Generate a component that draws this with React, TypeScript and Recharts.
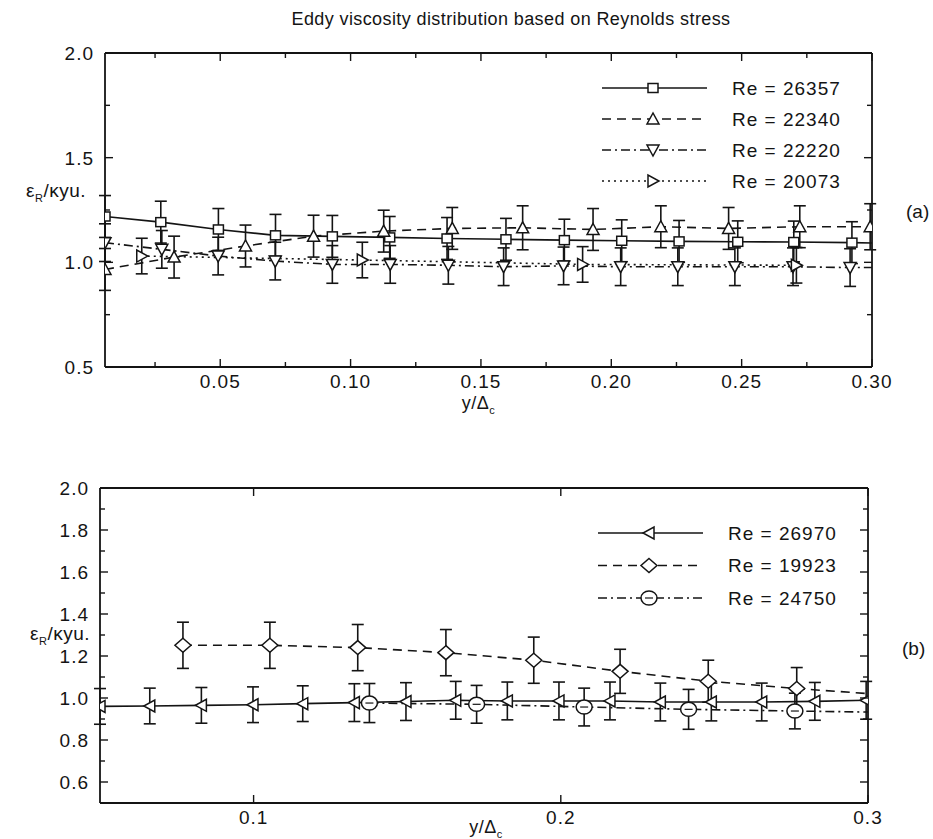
import React from "react";
import { LineChart, Line, XAxis, YAxis, ErrorBar, Legend } from "recharts";

const INK = "#141414";
const FONT = "'Liberation Sans', Arial, Helvetica, sans-serif";

// ---------- panel (a) ----------
const aXDomain = [0.0058, 0.3];
const aXTicks = [0.025, 0.05, 0.075, 0.1, 0.125, 0.15, 0.175, 0.2, 0.225, 0.25, 0.275, 0.3];
const aXLabels = [0.05, 0.1, 0.15, 0.2, 0.25, 0.3];
const aYTicks = [0.5, 0.75, 1.0, 1.25, 1.5, 1.75, 2.0];
const aYLabels = [0.5, 1.0, 1.5, 2.0];

const re26357X = [0.0058, 0.0272, 0.0493, 0.0712, 0.093, 0.115, 0.137, 0.1596, 0.182, 0.204, 0.226, 0.2485, 0.27, 0.2923];
const re26357Y = [1.219, 1.192, 1.157, 1.129, 1.124, 1.119, 1.114, 1.11, 1.106, 1.103, 1.1, 1.098, 1.097, 1.094];
const re26357Err = [0.1, 0.1, 0.1, 0.1, 0.1, 0.1, 0.1, 0.1, 0.1, 0.1, 0.1, 0.1, 0.1, 0.1];
const re26357Edge = [0.3, 1.092];

const re22340X = [0.0058, 0.0323, 0.0597, 0.0858, 0.1127, 0.139, 0.166, 0.193, 0.219, 0.245, 0.2723, 0.2993];
const re22340Y = [0.966, 1.025, 1.078, 1.125, 1.149, 1.162, 1.165, 1.157, 1.17, 1.162, 1.17, 1.17];
const re22340Err = [0.1, 0.1, 0.1, 0.1, 0.1, 0.1, 0.105, 0.1, 0.1, 0.1, 0.1, 0.11];

const re22220X = [0.0058, 0.0276, 0.0492, 0.0711, 0.093, 0.1152, 0.1375, 0.1587, 0.1817, 0.2036, 0.2255, 0.2474, 0.2697, 0.2916];
const re22220Y = [1.094, 1.062, 1.03, 1.006, 0.99, 0.99, 0.986, 0.979, 0.983, 0.979, 0.979, 0.979, 0.979, 0.975];
const re22220Err = [0.09, 0.09, 0.09, 0.09, 0.09, 0.09, 0.09, 0.09, 0.09, 0.09, 0.09, 0.09, 0.09, 0.09];
const re22220Edge = [0.3, 0.975];

const re20073X = [0.0199, 0.1045, 0.189, 0.271];
const re20073Y = [1.03, 1.011, 0.99, 0.986];
const re20073Err = [0.085, 0.085, 0.085, 0.085];

// ---------- panel (b) ----------
const bXDomain = [0.05, 0.3];
const bXTicks = [0.1, 0.2, 0.3];
const bYTicks = [0.5, 0.6, 0.7, 0.8, 0.9, 1.0, 1.1, 1.2, 1.3, 1.4, 1.5, 1.6, 1.7, 1.8, 1.9, 2.0];
const bYLabels = [0.6, 0.8, 1.0, 1.2, 1.4, 1.6, 1.8, 2.0];

const re26970X = [0.05, 0.0662, 0.083, 0.0998, 0.116, 0.1328, 0.1496, 0.1658, 0.1826, 0.1994, 0.216, 0.2324, 0.249, 0.2654, 0.2827, 0.2994];
const re26970Y = [0.96, 0.962, 0.965, 0.968, 0.973, 0.978, 0.983, 0.989, 0.986, 0.986, 0.986, 0.981, 0.981, 0.981, 0.984, 0.989];
const re26970Err = [0.085, 0.085, 0.085, 0.085, 0.085, 0.09, 0.09, 0.09, 0.09, 0.09, 0.09, 0.09, 0.09, 0.09, 0.09, 0.09];

const re19923X = [0.077, 0.1053, 0.1339, 0.1626, 0.1912, 0.2193, 0.248, 0.2768];
const re19923Y = [1.251, 1.251, 1.24, 1.216, 1.18, 1.127, 1.08, 1.045];
const re19923Err = [0.11, 0.11, 0.11, 0.11, 0.11, 0.105, 0.1, 0.1];
const re19923Edge = [0.3, 1.021];

const re24750X = [0.1377, 0.1726, 0.2076, 0.2416, 0.2762];
const re24750Y = [0.976, 0.97, 0.957, 0.946, 0.938];
const re24750Err = [0.093, 0.09, 0.09, 0.095, 0.085];
const re24750Edge = [0.3, 0.933];

type Kind = "square" | "triUp" | "triDown" | "triRight" | "triLeft" | "diamond" | "circle";

const SOLID = undefined;
const DASHED = "9 6";
const DASHDOT = "9 4 2 4";
const DOTTED = "2 4";

function build(xs: number[], ys: number[], err: number[], edge?: number[]) {
  const rows: any[] = xs.map((x, i) => ({ x, y: ys[i], e: err[i] }));
  // line runs on to the frame, no marker there
  if (edge) rows.push({ x: edge[0], y: edge[1], edge: true });
  return rows;
}

const seriesA = [
  { name: "Re = 26357", kind: "square" as Kind, dash: SOLID, data: build(re26357X, re26357Y, re26357Err, re26357Edge) },
  { name: "Re = 22340", kind: "triUp" as Kind, dash: DASHED, data: build(re22340X, re22340Y, re22340Err) },
  { name: "Re = 22220", kind: "triDown" as Kind, dash: DASHDOT, data: build(re22220X, re22220Y, re22220Err, re22220Edge) },
  { name: "Re = 20073", kind: "triRight" as Kind, dash: DOTTED, data: build(re20073X, re20073Y, re20073Err) },
];

const seriesB = [
  { name: "Re = 26970", kind: "triLeft" as Kind, dash: SOLID, data: build(re26970X, re26970Y, re26970Err) },
  { name: "Re = 19923", kind: "diamond" as Kind, dash: DASHED, data: build(re19923X, re19923Y, re19923Err, re19923Edge) },
  { name: "Re = 24750", kind: "circle" as Kind, dash: DASHDOT, data: build(re24750X, re24750Y, re24750Err, re24750Edge) },
];

function Marker({ kind, cx, cy }: { kind: Kind; cx: number; cy: number }) {
  const p = { fill: "#fff", stroke: INK, strokeWidth: 1.5 };
  const pts = (a: number[][]) => a.map(([dx, dy]) => `${cx + dx},${cy + dy}`).join(" ");
  switch (kind) {
    case "square":
      return <rect x={cx - 5} y={cy - 4.5} width={10} height={9} {...p} />;
    case "triUp":
      return <polygon points={pts([[0, -6], [-6, 5], [6, 5]])} {...p} />;
    case "triDown":
      return <polygon points={pts([[-6, -5], [6, -5], [0, 6]])} {...p} />;
    case "triRight":
      return <polygon points={pts([[-5, -6], [-5, 6], [6, 0]])} {...p} />;
    case "triLeft":
      return <polygon points={pts([[5, -6], [5, 6], [-6, 0]])} {...p} />;
    case "diamond":
      return <polygon points={pts([[0, -7], [8, 0], [0, 7], [-8, 0]])} {...p} />;
    default:
      return (
        <g>
          <ellipse cx={cx} cy={cy} rx={8} ry={7} {...p} />
          <line x1={cx - 4} x2={cx + 4} y1={cy} y2={cy} stroke={INK} strokeWidth={1.2} />
        </g>
      );
  }
}

function dotFor(kind: Kind) {
  return (p: any) => {
    const k = `${kind}-${p.index}`;
    if (p.payload?.edge || p.cx == null) return <g key={k} />;
    return (
      <g key={k}>
        <Marker kind={kind} cx={p.cx} cy={p.cy} />
      </g>
    );
  };
}

const isIn = (list: number[], v: number) => list.some((m) => Math.abs(m - v) < 1e-6);
const txt = { fontSize: 19, letterSpacing: 1, fill: INK, fontFamily: FONT };

function bottomTick(labels: number[], digits: number) {
  return (props: any) => {
    const { x, y, payload } = props;
    const major = isIn(labels, payload.value);
    const base = y - 8;
    return (
      <g>
        <line x1={x} x2={x} y1={base} y2={base - (major ? 8 : 5)} stroke={INK} strokeWidth={1.4} />
        {major && (
          <text x={x} y={base + 21} textAnchor="middle" {...txt}>
            {payload.value.toFixed(digits)}
          </text>
        )}
      </g>
    );
  };
}

function topTick(labels: number[]) {
  return (props: any) => {
    const { x, y, payload } = props;
    const base = y + 8;
    return <line x1={x} x2={x} y1={base} y2={base + (isIn(labels, payload.value) ? 8 : 5)} stroke={INK} strokeWidth={1.4} />;
  };
}

function leftTick(labels: number[]) {
  return (props: any) => {
    const { x, y, payload } = props;
    const major = isIn(labels, payload.value);
    const base = x + 8;
    return (
      <g>
        <line x1={base} x2={base + (major ? 8 : 5)} y1={y} y2={y} stroke={INK} strokeWidth={1.4} />
        {major && (
          <text x={base - 11} y={y} dy="0.36em" textAnchor="end" {...txt}>
            {payload.value.toFixed(1)}
          </text>
        )}
      </g>
    );
  };
}

function rightTick(labels: number[]) {
  return (props: any) => {
    const { x, y, payload } = props;
    const base = x - 8;
    return <line x1={base} x2={base - (isIn(labels, payload.value) ? 8 : 5)} y1={y} y2={y} stroke={INK} strokeWidth={1.4} />;
  };
}

function yLabel(frac: number, gap: number) {
  return (props: any) => {
    const vb = props.viewBox;
    return (
      <text x={vb.x + vb.width - gap} y={vb.y + vb.height * frac} textAnchor="end" {...txt} letterSpacing={0.5}>
        ε<tspan dy={5} fontSize={11}>R</tspan>
        <tspan dy={-5}>/κyu.</tspan>
      </text>
    );
  };
}

function xLabel(dx: number, dy: number) {
  return (props: any) => {
    const vb = props.viewBox;
    return (
      <text x={vb.x + vb.width / 2 + dx} y={vb.y + dy} textAnchor="middle" {...txt} fontSize={18} letterSpacing={0.5}>
        y/Δ<tspan dy={5} fontSize={11}>c</tspan>
      </text>
    );
  };
}

function LegendBox({ items, gap }: { items: { name: string; kind: Kind; dash?: string }[]; gap: number }) {
  return (
    <svg width={260} height={items.length * gap + 10} style={{ overflow: "visible" }}>
      {items.map((it, i) => {
        const cy = 16 + i * gap;
        return (
          <g key={it.name}>
            <line x1={7} x2={112} y1={cy} y2={cy} stroke={INK} strokeWidth={1.6} strokeDasharray={it.dash} />
            <Marker kind={it.kind} cx={58} cy={cy} />
            <text x={137} y={cy} dy="0.36em" {...txt}>
              {it.name}
            </text>
          </g>
        );
      })}
    </svg>
  );
}

const axisLine = { stroke: INK, strokeWidth: 1.8 };

function Panel({
  series, xDomain, xTicks, xLabels, xDigits, yTicks, yLabels, height, margin,
  legendTop, legendLeft, legendGap, yLabelFrac, yLabelGap, xLabelDx, xLabelDy,
}: any) {
  return (
    <LineChart width={933} height={height} margin={margin}>
      <XAxis type="number" dataKey="x" domain={xDomain} allowDataOverflow ticks={xTicks} interval={0}
        tickSize={0} tickMargin={8} tick={bottomTick(xLabels, xDigits)} tickLine={false} axisLine={axisLine}
        height={30} label={xLabel(xLabelDx, xLabelDy)} />
      <XAxis xAxisId="top" orientation="top" type="number" dataKey="x" domain={xDomain} allowDataOverflow ticks={xTicks}
        interval={0} tickSize={0} tickMargin={8} tick={topTick(xLabels)} tickLine={false} axisLine={axisLine} height={20} />
      <YAxis type="number" domain={[0.5, 2.0]} allowDataOverflow ticks={yTicks} interval={0} tickSize={0} tickMargin={8}
        tick={leftTick(yLabels)} tickLine={false} axisLine={axisLine} width={60} label={yLabel(yLabelFrac, yLabelGap)} />
      <YAxis yAxisId="right" orientation="right" type="number" domain={[0.5, 2.0]} allowDataOverflow ticks={yTicks}
        interval={0} tickSize={0} tickMargin={8} tick={rightTick(yLabels)} tickLine={false} axisLine={axisLine} width={20} />
      {series.map((s: any) => (
        <Line key={s.name} data={s.data} dataKey="y" name={s.name} stroke={INK} strokeWidth={1.6}
          strokeDasharray={s.dash} dot={dotFor(s.kind)} activeDot={false} isAnimationActive={false}>
          <ErrorBar dataKey="e" direction="y" width={6} stroke={INK} strokeWidth={1.6} />
        </Line>
      ))}
      <Legend layout="vertical" align="center" verticalAlign="middle"
        wrapperStyle={{ top: legendTop, left: legendLeft, width: 260 }}
        content={() => <LegendBox items={series} gap={legendGap} />} />
    </LineChart>
  );
}

export default function App() {
  return (
    <div style={{ position: "absolute", left: 0, top: 0, width: 933, height: 839, background: "#fff", fontFamily: FONT, color: INK }}>
      <div style={{ position: "absolute", top: 9, left: 0, width: 1022, textAlign: "center", fontSize: 18, letterSpacing: 0.4 }}>
        Eddy viscosity distribution based on Reynolds stress
      </div>
      <div style={{ position: "absolute", top: 0, left: 0 }}>
        <Panel series={seriesA} xDomain={aXDomain} xTicks={aXTicks} xLabels={aXLabels} xDigits={2}
          yTicks={aYTicks} yLabels={aYLabels} height={424}
          margin={{ top: 33, right: 41, left: 45, bottom: 27 }}
          legendTop={72} legendLeft={595} legendGap={31}
          yLabelFrac={0.46} yLabelGap={19} xLabelDx={-10} xLabelDy={42} />
      </div>
      <div style={{ position: "absolute", top: 430, left: 0 }}>
        <Panel series={seriesB} xDomain={bXDomain} xTicks={bXTicks} xLabels={bXTicks} xDigits={1}
          yTicks={bYTicks} yLabels={bYLabels} height={409}
          margin={{ top: 38, right: 45, left: 40, bottom: 6 }}
          legendTop={87} legendLeft={591} legendGap={32.5}
          yLabelFrac={0.482} yLabelGap={10} xLabelDx={2} xLabelDy={30} />
      </div>
      <div style={{ position: "absolute", left: 906, top: 201, fontSize: 19 }}>(a)</div>
      <div style={{ position: "absolute", left: 902, top: 638, fontSize: 19 }}>(b)</div>
    </div>
  );
}
